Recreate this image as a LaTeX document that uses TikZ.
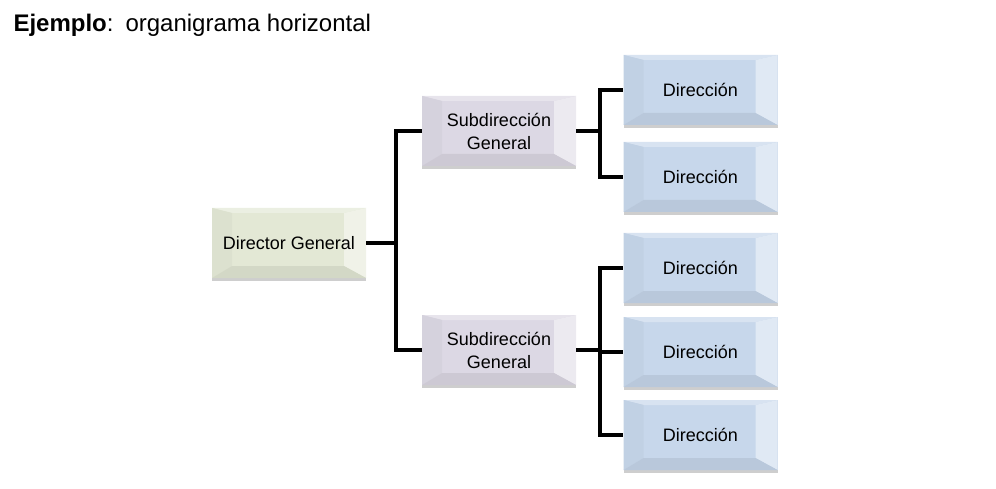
\documentclass[tikz,border=0pt]{standalone}
\usepackage{fontspec}
\setmainfont{Liberation Sans}
\usepackage{xcolor}
\usetikzlibrary{positioning, calc, shadows}

\definecolor{dgcol}{HTML}{E3E8D5}
\definecolor{subcol}{HTML}{DCD8E4}
\definecolor{dircol}{HTML}{C7D7EB}

\begin{document}
\begin{tikzpicture}[
    x=1pt, y=1pt,
    bevelbox/.style={rectangle, fill=#1, minimum width=154pt, minimum height=70pt, inner sep=0pt,
        align=center, font=\fontsize{18}{23}\selectfont,
        drop shadow={shadow xshift=0pt, shadow yshift=-3pt, opacity=0.35, fill=black!55},
        path picture={
            \coordinate (bsw) at (path picture bounding box.south west);
            \coordinate (bne) at (path picture bounding box.north east);
            \coordinate (isw) at ($(bsw)+(20pt,12pt)$);
            \coordinate (ine) at ($(bne)+(-22pt,-5pt)$);
            \fill[#1!70!white] (bsw|-bne) -- (bne) -- (ine) -- (isw|-ine) -- cycle;
            \fill[#1!97!black] (bsw) -- (bsw|-bne) -- (isw|-ine) -- (isw) -- cycle;
            \fill[#1!55!white] (bne) -- (bne|-bsw) -- (ine|-isw) -- (ine) -- cycle;
            \fill[#1!93!black] (bsw) -- (bne|-bsw) -- (ine|-isw) -- (isw) -- cycle;
        }},
    conn/.style={line width=3.5pt},
]
\useasboundingbox (0,0) rectangle (996,488);
\node[anchor=base west, font=\fontsize{24}{28}\selectfont] (title) at (10,456)
    {\textbf{Ejemplo}:\hspace{0.5em}organigrama horizontal};

\node[bevelbox=dgcol] (dg) at (289,245) {Director General};
\node[bevelbox=subcol] (sub1) at (499,357) {Subdirección\\General};
\node[bevelbox=subcol] (sub2) at (499,138) {Subdirección\\General};
\node[bevelbox=dircol] (dir1) at (700.5,398) {Dirección};
\node[bevelbox=dircol] (dir2) at (700.5,311) {Dirección};
\node[bevelbox=dircol] (dir3) at (700.5,220) {Dirección};
\node[bevelbox=dircol] (dir4) at (700.5,136) {Dirección};
\node[bevelbox=dircol] (dir5) at (700.5,53) {Dirección};

% connectors
\coordinate (j0) at ($(dg.east)+(30,0)$);
\coordinate (j1) at ($(sub1.east)+(24,0)$);
\coordinate (j2) at ($(sub2.east)+(24,0)$);
\draw[conn] (dg.east) -- (j0);
\draw[conn] (j0) |- (sub1.west);
\draw[conn] (j0) |- (sub2.west);
\draw[conn] (sub1.east) -- (j1);
\draw[conn] (j1) |- (dir1.west);
\draw[conn] (j1) |- (dir2.west);
\draw[conn] (sub2.east) -- (j2);
\draw[conn] (j2) |- (dir3.west);
\draw[conn] (j2) |- (dir4.west);
\draw[conn] (j2) |- (dir5.west);
\end{tikzpicture}
\end{document}
